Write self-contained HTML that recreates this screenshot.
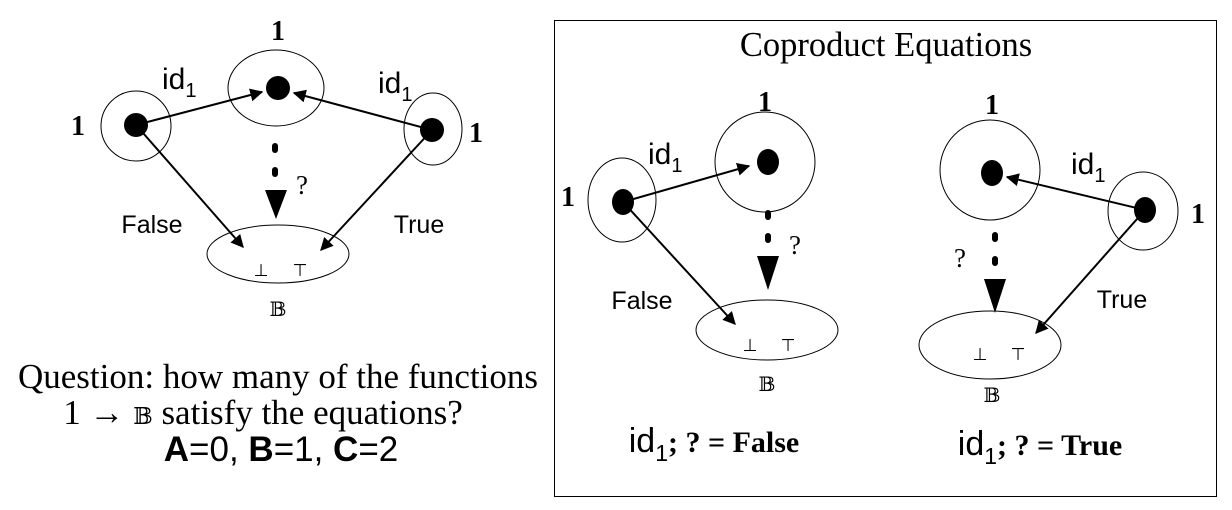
<!DOCTYPE html>
<html><head><meta charset="utf-8"><style>
html,body{margin:0;padding:0;background:#fff;}
svg{display:block;}
.s{font-family:"Liberation Sans","DejaVu Sans",sans-serif;}
.r{font-family:"Liberation Serif","DejaVu Serif",serif;}
</style></head><body>
<svg width="1232" height="510" viewBox="0 0 1232 510" xmlns="http://www.w3.org/2000/svg">
<defs>
<marker id="a" viewBox="0 0 10 10" refX="9" refY="5" markerWidth="13" markerHeight="13" markerUnits="userSpaceOnUse" orient="auto"><path d="M0,0 L10,5 L0,10 z" fill="#000"/></marker>
</defs>
<g fill="none" stroke="#000" stroke-width="1">
<ellipse cx="276" cy="88" rx="48" ry="38"/>
<circle cx="136" cy="126" r="35"/>
<ellipse cx="433" cy="129" rx="29" ry="36"/>
<ellipse cx="278" cy="254" rx="71" ry="29"/>
<rect x="554.5" y="20.5" width="662" height="476"/>
<circle cx="765" cy="162" r="50"/>
<ellipse cx="622" cy="200" rx="34" ry="42"/>
<ellipse cx="767" cy="330" rx="71" ry="30"/>
<circle cx="990" cy="170" r="50"/>
<ellipse cx="1143" cy="211" rx="35" ry="39"/>
<ellipse cx="990" cy="345" rx="71" ry="34"/>
</g>
<g stroke="#000" stroke-width="2" fill="none" marker-end="url(#a)">
<line x1="136" y1="125" x2="262" y2="92"/>
<line x1="432" y1="130" x2="294" y2="93"/>
<line x1="136" y1="125" x2="243" y2="247"/>
<line x1="432" y1="130" x2="321" y2="250"/>
<line x1="623" y1="202" x2="749" y2="166"/>
<line x1="623" y1="202" x2="735" y2="324"/>
<line x1="1145" y1="210" x2="1007" y2="177"/>
<line x1="1145" y1="210" x2="1036" y2="333"/>
</g>
<g fill="#000">
<circle cx="278" cy="88" r="12"/>
<circle cx="136" cy="125" r="12"/>
<circle cx="432" cy="130" r="12"/>
<ellipse cx="768" cy="162" rx="11" ry="13"/>
<ellipse cx="623" cy="202" rx="11" ry="13"/>
<ellipse cx="992" cy="173" rx="11" ry="13"/>
<ellipse cx="1145" cy="210" rx="11" ry="13"/>
<rect x="272" y="143" width="6" height="10" rx="3"/><rect x="272" y="167" width="6" height="10" rx="3"/>
<path d="M265,190 L287,190 L276,219 z"/>
<rect x="765" y="210" width="6" height="10" rx="3"/><rect x="765" y="233" width="6" height="10" rx="3"/>
<path d="M757,256 L779,256 L768,290 z"/>
<rect x="992" y="232" width="6" height="10" rx="3"/><rect x="992" y="256" width="6" height="10" rx="3"/>
<path d="M984,279 L1006,279 L995,313 z"/>
</g>
<g class="r" font-weight="bold" font-size="28" text-anchor="middle">
<text x="278" y="40">1</text><text x="78" y="135">1</text><text x="476" y="142">1</text>
<text x="765" y="111">1</text><text x="568" y="206">1</text>
<text x="992" y="114">1</text><text x="1198" y="223">1</text>
</g>
<g class="r" font-size="27" text-anchor="middle">
<text x="302" y="194">?</text><text x="795" y="254">?</text><text x="960" y="267">?</text>
</g>
<g class="s" font-size="30">
<text x="162" y="89">id<tspan font-size="20" dy="8">1</tspan></text>
<text x="378" y="93">id<tspan font-size="20" dy="8">1</tspan></text>
<text x="648" y="164">id<tspan font-size="20" dy="8">1</tspan></text>
<text x="1071" y="174">id<tspan font-size="20" dy="8">1</tspan></text>
</g>
<g class="s" font-size="25" text-anchor="middle">
<text x="152" y="233">False</text><text x="419" y="233">True</text>
<text x="642" y="309">False</text><text x="1122" y="308">True</text>
</g>
<g class="s" font-size="17" text-anchor="middle">
<text x="261" y="276">⊥</text><text x="300" y="276">⊤</text>
<text x="750" y="351">⊥</text><text x="788" y="351">⊤</text>
<text x="980" y="360">⊥</text><text x="1018" y="360">⊤</text>
</g>
<g class="r" font-size="20" text-anchor="middle">
<text x="278" y="316">𝔹</text><text x="767" y="391">𝔹</text><text x="992" y="402">𝔹</text>
</g>
<text class="r" x="886" y="56" font-size="34.5" text-anchor="middle">Coproduct Equations</text>
<text x="714" y="452" text-anchor="middle"><tspan class="s" font-size="34">id<tspan font-size="23" dy="9">1</tspan></tspan><tspan class="r" font-size="30" font-weight="bold" dy="-9">; ? = False</tspan></text>
<text x="1040" y="455" text-anchor="middle"><tspan class="s" font-size="34">id<tspan font-size="23" dy="9">1</tspan></tspan><tspan class="r" font-size="30" font-weight="bold" dy="-9">; ? = True</tspan></text>
<g class="r" font-size="35" text-anchor="middle">
<text x="278" y="388">Question: how many of the functions</text>
<text x="263" y="424">1 → <tspan font-size="23">𝔹</tspan> satisfy the equations?</text>
</g>
<text class="s" x="281" y="461" font-size="35" text-anchor="middle"><tspan font-weight="bold">A</tspan>=0, <tspan font-weight="bold">B</tspan>=1, <tspan font-weight="bold">C</tspan>=2</text>
</svg>
</body></html>
